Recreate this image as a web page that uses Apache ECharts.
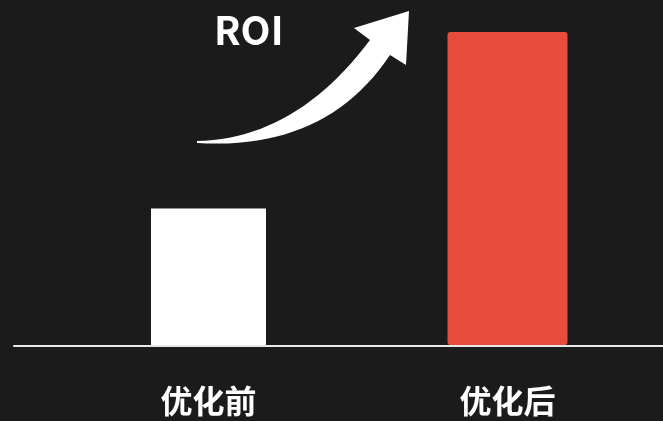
<!DOCTYPE html>
<html><head><meta charset="utf-8">
<script src="https://cdn.jsdelivr.net/npm/echarts@6/dist/echarts.min.js"></script>
<style>html,body{margin:0;padding:0;background:#1b1b1b}#c{width:663px;height:421px}</style>
</head><body><div id="c"></div>
<script>
var categories = ['优化前', '优化后'];
var beforeValues = [43.6, null];
var afterValues = [null, 100];
var titleText = 'ROI';

function quad(p0, c, p1, n) {
  var pts = [];
  for (var i = 0; i <= n; i++) {
    var t = i / n, u = 1 - t;
    pts.push([u*u*p0[0] + 2*u*t*c[0] + t*t*p1[0], u*u*p0[1] + 2*u*t*c[1] + t*t*p1[1]]);
  }
  return pts;
}
var arrowPts = quad([197,141],[296,139],[370,40],24)
  .concat([[354,28],[409,11],[406,65]])
  .concat(quad([390,55],[326,151],[197,143],24));

var chart = echarts.init(document.getElementById('c'));
chart.setOption({
  backgroundColor: '#1b1b1b',
  animation: false,
  grid: [
    {left: 59, right: 6, top: 32, bottom: 76},
    {left: 14, right: 0, top: 32, bottom: 75}
  ],
  xAxis: [
    {type: 'category', gridIndex: 0, data: categories,
     axisLine: {show: false}, axisTick: {show: false},
     axisLabel: {color: '#ffffff', fontSize: 32, fontWeight: 'bold', margin: 40,
                 fontFamily: 'Noto Sans CJK SC'}},
    {type: 'category', gridIndex: 1, data: categories,
     axisLine: {show: true, lineStyle: {color: '#e8e8e8', width: 2}},
     axisTick: {show: false}, axisLabel: {show: false}},
    {type: 'category', gridIndex: 0, position: 'top', data: categories, show: false}
  ],
  yAxis: [
    {type: 'value', gridIndex: 0, min: 0, max: 100, show: false},
    {type: 'value', gridIndex: 1, min: 0, max: 100, show: false}
  ],
  series: [
    {type: 'bar', xAxisIndex: 0, yAxisIndex: 0, data: beforeValues, barWidth: 115,
     itemStyle: {color: '#ffffff'}},
    {type: 'bar', xAxisIndex: 2, yAxisIndex: 0, data: afterValues, barWidth: 120,
     itemStyle: {color: '#e74c3c', borderRadius: 3}}
  ],
  graphic: [
    {type: 'text', x: 214, y: 11,
     style: {text: titleText, fill: '#ffffff', fontSize: 39, fontWeight: 'bold',
             fontFamily: 'Noto Sans CJK SC'}},
    {type: 'polygon', shape: {points: arrowPts}, style: {fill: '#ffffff'}}
  ]
});
</script></body></html>
